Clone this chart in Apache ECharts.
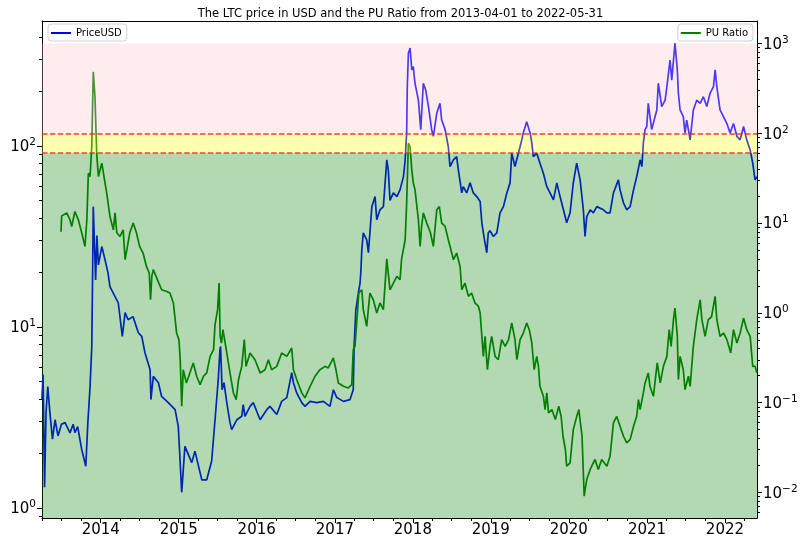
<!DOCTYPE html>
<html>
<head>
<meta charset="utf-8">
<title>LTC price and PU Ratio</title>
<script src="https://cdn.jsdelivr.net/npm/echarts@6/dist/echarts.min.js"></script>
<style>
    html, body { margin: 0; padding: 0; background: #fff; }
    #chart { width: 801px; height: 544px; }
</style>
</head>
<body>
<div id="chart"></div>
<script>
    // PriceUSD (left log axis)
    var priceDates = [
        '2013-04-01', '2013-04-06', '2013-04-13', '2013-04-20', '2013-04-28', '2013-05-08', '2013-05-20', '2013-06-01',
        '2013-06-15', '2013-07-01', '2013-07-18', '2013-08-10', '2013-08-25', '2013-09-02', '2013-09-15', '2013-10-04',
        '2013-10-23', '2013-11-02', '2013-11-12', '2013-11-20', '2013-11-24', '2013-11-27', '2013-12-02', '2013-12-08',
        '2013-12-14', '2013-12-21', '2014-01-06', '2014-01-21', '2014-02-04', '2014-02-13', '2014-03-09', '2014-03-24',
        '2014-04-12', '2014-04-25', '2014-05-09', '2014-06-01', '2014-06-26', '2014-07-12', '2014-07-27', '2014-08-20',
        '2014-08-24', '2014-09-04', '2014-09-28', '2014-10-13', '2014-11-13', '2014-12-15', '2014-12-30', '2015-01-15',
        '2015-01-30', '2015-03-03', '2015-03-18', '2015-04-19', '2015-05-12', '2015-06-04', '2015-06-20', '2015-07-05',
        '2015-07-13', '2015-07-16', '2015-07-23', '2015-08-01', '2015-08-14', '2015-08-29', '2015-09-06', '2015-09-30',
        '2015-10-23', '2015-10-30', '2015-11-07', '2015-12-01', '2015-12-16', '2016-01-17', '2016-02-17', '2016-03-03',
        '2016-04-04', '2016-04-27', '2016-05-21', '2016-06-13', '2016-06-21', '2016-07-06', '2016-07-30', '2016-08-14',
        '2016-09-07', '2016-10-08', '2016-11-08', '2016-12-09', '2016-12-25', '2017-01-10', '2017-02-10', '2017-03-13',
        '2017-03-28', '2017-04-01', '2017-04-09', '2017-04-21', '2017-04-29', '2017-05-03', '2017-05-07', '2017-05-14',
        '2017-05-30', '2017-06-07', '2017-06-23', '2017-07-08', '2017-07-16', '2017-07-31', '2017-08-16', '2017-09-01',
        '2017-09-08', '2017-09-16', '2017-10-02', '2017-10-18', '2017-11-02', '2017-11-18', '2017-11-26', '2017-12-03',
        '2017-12-06', '2017-12-11', '2017-12-19', '2017-12-27', '2018-01-03', '2018-01-11', '2018-01-27', '2018-02-07',
        '2018-02-19', '2018-03-02', '2018-03-15', '2018-03-30', '2018-04-07', '2018-04-23', '2018-05-08', '2018-05-16',
        '2018-06-01', '2018-06-16', '2018-06-24', '2018-07-10', '2018-07-25', '2018-08-02', '2018-08-18', '2018-08-25',
        '2018-09-10', '2018-09-26', '2018-10-11', '2018-10-27', '2018-11-12', '2018-11-20', '2018-11-27', '2018-12-13',
        '2018-12-20', '2018-12-28', '2019-01-13', '2019-01-29', '2019-02-13', '2019-03-01', '2019-03-17', '2019-04-01',
        '2019-04-09', '2019-04-24', '2019-05-10', '2019-05-26', '2019-06-02', '2019-06-18', '2019-07-04', '2019-07-12',
        '2019-07-19', '2019-08-04', '2019-08-19', '2019-09-04', '2019-09-20', '2019-10-05', '2019-10-21', '2019-11-06',
        '2019-11-21', '2019-12-07', '2019-12-22', '2020-01-07', '2020-01-22', '2020-02-07', '2020-02-23', '2020-03-09',
        '2020-03-17', '2020-03-25', '2020-04-10', '2020-04-25', '2020-05-11', '2020-06-11', '2020-06-27', '2020-07-12',
        '2020-07-28', '2020-08-20', '2020-08-28', '2020-09-13', '2020-09-28', '2020-10-14', '2020-10-30', '2020-11-14',
        '2020-11-30', '2020-12-08', '2020-12-15', '2020-12-23', '2020-12-31', '2021-01-07', '2021-01-15', '2021-01-23',
        '2021-01-31', '2021-02-16', '2021-02-23', '2021-03-11', '2021-03-27', '2021-04-04', '2021-04-19', '2021-04-27',
        '2021-05-12', '2021-05-23', '2021-05-28', '2021-06-05', '2021-06-20', '2021-06-28', '2021-07-06', '2021-07-22',
        '2021-08-06', '2021-08-22', '2021-09-07', '2021-09-22', '2021-10-08', '2021-10-23', '2021-11-08', '2021-11-16',
        '2021-11-24', '2021-12-09', '2021-12-25', '2022-01-10', '2022-01-25', '2022-02-10', '2022-02-26', '2022-03-13',
        '2022-03-29', '2022-04-13', '2022-04-29', '2022-05-11', '2022-05-22', '2022-05-31'
    ];
    var priceValues = [
        4.0, 5.45, 1.30, 3.4, 4.69, 3.36, 2.4, 3.07,
        2.5, 2.9, 2.96, 2.6, 2.9, 2.61, 2.81, 2.10,
        1.70, 3.01, 4.69, 7.80, 20, 46.2, 30, 18.2,
        32, 22, 27.8, 23.5, 19.9, 16.7, 14.7, 13.6,
        8.87, 12.0, 10.96, 11.4, 9.29, 8.87, 7.20, 5.80,
        3.97, 5.33, 4.92, 4.13, 3.82, 3.49, 2.82, 1.22,
        2.19, 1.78, 2.06, 1.43, 1.43, 1.81, 3.07, 5.11,
        7.48, 7.80, 4.5, 4.92, 3.82, 2.96, 2.71, 3.07,
        3.21, 3.72, 3.21, 3.64, 3.82, 3.07, 3.49, 3.64,
        3.28, 3.88, 4.07, 5.59, 4.92, 4.33, 3.82, 3.64,
        3.88, 3.82, 3.88, 3.64, 4.50, 4.07, 3.88, 3.97,
        4.50, 7.80, 12.4, 15.4, 17.5, 20.7, 26.6, 33.1,
        30.3, 25.7, 46.2, 52.5, 39.1, 44.4, 46.2, 83.8,
        73.8, 50, 55.0, 52.5, 57.2, 67.7, 83.8, 118,
        212, 325, 347, 263, 274, 222, 179, 123,
        222, 204, 165, 123, 113, 152, 172, 139,
        123, 99, 76.9, 83.8, 87.3, 73.8, 55.0, 59.6,
        55.0, 62.5, 55.0, 52.5, 49.3, 37.6, 33.1, 25.7,
        33.1, 34.0, 31.6, 33.1, 42.7, 46.2, 55.0, 62.5,
        91.2, 76.9, 91.2, 108, 118, 136, 118, 103.5,
        87.3, 91.2, 80.3, 70.7, 59.6, 55.0, 50.3, 62.5,
        52.5, 44.4, 37.6, 42.7, 62.5, 80.3, 64.9, 44.4,
        31.6, 40.7, 44.4, 42.7, 46.2, 44.4, 42.7, 42.7,
        55.0, 64.9, 57.2, 48.5, 44.4, 46.2, 57.2, 67.7,
        83.8, 76.9, 103.5, 123, 128, 172, 145, 123,
        123, 158, 222, 165, 179, 212, 298, 231,
        369, 263, 195, 158, 145, 118, 139, 108,
        158, 179, 172, 187, 165, 195, 212, 263,
        212, 158, 145, 133, 118, 133, 113, 108,
        128, 108, 95, 80.3, 64.9, 67.7
    ];

    // PU Ratio (right log axis)
    var ratioDates = [
        '2013-06-29', '2013-07-02', '2013-07-10', '2013-07-26', '2013-08-10', '2013-08-18', '2013-09-02', '2013-09-18',
        '2013-10-04', '2013-10-19', '2013-10-28', '2013-11-04', '2013-11-12', '2013-11-20', '2013-11-27', '2013-12-05',
        '2013-12-13', '2013-12-21', '2014-01-06', '2014-01-21', '2014-01-29', '2014-02-13', '2014-03-01', '2014-03-09',
        '2014-03-17', '2014-04-01', '2014-04-16', '2014-04-25', '2014-05-17', '2014-06-02', '2014-06-17', '2014-07-02',
        '2014-07-18', '2014-08-03', '2014-08-16', '2014-08-22', '2014-08-28', '2014-09-04', '2014-09-28', '2014-10-13',
        '2014-11-06', '2014-11-21', '2014-12-07', '2014-12-22', '2015-01-02', '2015-01-08', '2015-01-15', '2015-01-22',
        '2015-02-06', '2015-02-22', '2015-03-10', '2015-03-26', '2015-04-11', '2015-04-27', '2015-05-12', '2015-05-28',
        '2015-06-13', '2015-06-20', '2015-07-02', '2015-07-09', '2015-07-14', '2015-07-20', '2015-07-27', '2015-08-14',
        '2015-08-29', '2015-09-14', '2015-09-27', '2015-10-08', '2015-10-23', '2015-11-04', '2015-11-12', '2015-12-01',
        '2015-12-24', '2016-01-17', '2016-02-09', '2016-02-25', '2016-03-11', '2016-04-04', '2016-04-27', '2016-05-21',
        '2016-06-13', '2016-06-21', '2016-07-06', '2016-07-30', '2016-08-14', '2016-09-07', '2016-09-30', '2016-10-23',
        '2016-11-16', '2016-12-01', '2016-12-25', '2017-01-06', '2017-01-17', '2017-02-10', '2017-03-05', '2017-03-21',
        '2017-03-28', '2017-04-05', '2017-04-12', '2017-04-23', '2017-05-07', '2017-05-14', '2017-05-30', '2017-06-14',
        '2017-06-30', '2017-07-16', '2017-07-31', '2017-08-16', '2017-09-01', '2017-09-16', '2017-10-02', '2017-10-18',
        '2017-11-02', '2017-11-09', '2017-11-26', '2017-12-03', '2017-12-11', '2017-12-19', '2017-12-27', '2018-01-03',
        '2018-01-11', '2018-01-27', '2018-02-04', '2018-02-11', '2018-02-19', '2018-03-07', '2018-03-23', '2018-04-07',
        '2018-04-23', '2018-05-05', '2018-05-16', '2018-06-01', '2018-06-16', '2018-07-02', '2018-07-10', '2018-07-25',
        '2018-08-10', '2018-08-18', '2018-09-02', '2018-09-18', '2018-10-03', '2018-10-19', '2018-11-04', '2018-11-12',
        '2018-11-20', '2018-11-27', '2018-12-05', '2018-12-16', '2018-12-28', '2019-01-05', '2019-01-21', '2019-02-05',
        '2019-02-21', '2019-03-09', '2019-03-25', '2019-04-09', '2019-04-24', '2019-05-03', '2019-05-18', '2019-06-02',
        '2019-06-18', '2019-06-30', '2019-07-12', '2019-07-23', '2019-08-04', '2019-08-12', '2019-08-19', '2019-09-04',
        '2019-09-12', '2019-09-20', '2019-09-28', '2019-10-14', '2019-10-30', '2019-11-15', '2019-11-26', '2019-12-05',
        '2019-12-16', '2019-12-22', '2020-01-07', '2020-01-22', '2020-02-07', '2020-02-17', '2020-03-03', '2020-03-13',
        '2020-03-25', '2020-04-10', '2020-04-17', '2020-05-03', '2020-05-18', '2020-06-03', '2020-06-27', '2020-07-12',
        '2020-07-28', '2020-08-12', '2020-08-28', '2020-09-13', '2020-09-28', '2020-10-14', '2020-10-30', '2020-11-14',
        '2020-11-22', '2020-11-30', '2020-12-15', '2020-12-23', '2021-01-07', '2021-01-15', '2021-01-31', '2021-02-18',
        '2021-03-04', '2021-03-19', '2021-04-04', '2021-04-15', '2021-04-24', '2021-05-05', '2021-05-12', '2021-05-23',
        '2021-05-28', '2021-06-05', '2021-06-20', '2021-06-28', '2021-07-14', '2021-07-22', '2021-08-06', '2021-08-22',
        '2021-09-07', '2021-09-15', '2021-09-30', '2021-10-15', '2021-10-30', '2021-11-16', '2021-11-24', '2021-12-09',
        '2021-12-25', '2022-01-10', '2022-01-28', '2022-02-10', '2022-02-26', '2022-03-13', '2022-03-29', '2022-04-13',
        '2022-04-29', '2022-05-11', '2022-05-22', '2022-05-31'
    ];
    var ratioValues = [
        8.0, 12.0, 11.84, 13.0, 10.88, 9.17, 13.45, 10.88,
        7.80, 5.50, 10.88, 35.97, 33.0, 71.1, 485, 256,
        60.1, 33.0, 46.5, 28.1, 21.6, 11.84, 8.42, 13.0,
        7.80, 7.10, 8.42, 3.91, 7.80, 10.0, 7.80, 5.50,
        4.64, 3.29, 2.78, 1.40, 2.55, 3.03, 2.2, 1.81,
        1.73, 1.665, 1.29, 0.597, 0.504, 0.301, 0.0912, 0.233,
        0.166, 0.2146, 0.277, 0.197, 0.159, 0.197, 0.2146, 0.328,
        0.390, 0.74, 1.087, 2.15, 0.548, 0.46, 0.65, 0.358,
        0.2146, 0.1286, 0.1083, 0.181, 0.254, 0.504, 0.254, 0.358,
        0.301, 0.2146, 0.233, 0.301, 0.233, 0.254, 0.358, 0.328,
        0.407, 0.233, 0.181, 0.1286, 0.1131, 0.1522, 0.197, 0.233,
        0.254, 0.2438, 0.315, 0.233, 0.166, 0.1522, 0.146, 0.159,
        0.390, 0.424, 0.708, 1.665, 1.81, 1.087, 0.708, 1.665,
        1.40, 0.998, 1.29, 1.087, 4.0, 1.8, 2.15, 2.55,
        2.34, 3.91, 6.52, 16.7, 77.6, 71.1, 39.2, 28.1,
        23.5, 10.88, 5.50, 9.17, 13.0, 10.0, 8.0, 5.50,
        14.1, 15.3, 10.0, 9.17, 6.52, 4.64, 3.91, 4.64,
        3.29, 1.81, 2.15, 1.526, 1.665, 1.29, 1.18, 0.998,
        0.548, 0.328, 0.548, 0.233, 0.424, 0.548, 0.328, 0.301,
        0.504, 0.424, 0.504, 0.773, 0.504, 0.301, 0.504, 0.597,
        0.773, 0.65, 0.462, 0.233, 0.328, 0.254, 0.1522, 0.1178,
        0.0838, 0.1286, 0.077, 0.0838, 0.0649, 0.0912, 0.0706, 0.0423,
        0.0301, 0.0196, 0.0214, 0.0502, 0.07, 0.0838, 0.0423, 0.0091,
        0.01396, 0.018, 0.0196, 0.0233, 0.018, 0.0233, 0.0196, 0.0253,
        0.0596, 0.0706, 0.0546, 0.0423, 0.0357, 0.0388, 0.0546, 0.0706,
        0.1083, 0.0838, 0.1286, 0.166, 0.2146, 0.1522, 0.1178, 0.277,
        0.166, 0.254, 0.328, 0.65, 0.424, 0.84, 1.134, 0.548,
        0.181, 0.328, 0.233, 0.140, 0.197, 0.1522, 0.424, 0.84,
        1.40, 0.84, 0.548, 0.84, 0.9, 1.526, 0.84, 0.548,
        0.597, 0.504, 0.358, 0.65, 0.462, 0.597, 0.875, 0.65,
        0.548, 0.254, 0.254, 0.2146
    ];

    // tick labels
    var yearTicks = ['2014-01-01', '2015-01-01', '2016-01-01', '2017-01-01', '2018-01-01',
        '2019-01-01', '2020-01-01', '2021-01-01', '2022-01-01'];
    var priceTicks = [1, 10, 100];
    var ratioTicks = [0.01, 0.1, 1, 10, 100, 1000];
    // zone limits on the PU Ratio axis
    var zoneLimits = [60, 100, 1000];

    function ts(d) { return new Date(d + 'T00:00:00Z').getTime(); }

    var xMin = ts('2013-04-01'), xMax = ts('2022-05-31');
    var yearTs = yearTicks.map(ts);
    var quarterTs = [];
    for (var yr = 2013; yr <= 2022; yr++) {
        ['-01-01', '-04-01', '-07-01', '-10-01'].forEach(function (m) {
            var t = ts(yr + m);
            if (t >= xMin && t <= xMax) quarterTs.push(t);
        });
    }
    function minorLog(lo, hi) {
        var out = [];
        for (var e = lo; e <= hi; e++) {
            for (var k = 2; k <= 9; k++) out.push(k * Math.pow(10, e));
        }
        return out;
    }

    var priceMin = 0.88, priceMax = 490;
    var ratioMin = 0.0052, ratioMax = 1780;

    function pow10Label(v) {
        var e = Math.round(Math.log10(v));
        return '{b|10}{s|' + String(e).replace('-', '\u2212') + '}';
    }
    var powRich = {
        b: { fontSize: 15, color: '#000', fontFamily: 'DejaVu Sans', verticalAlign: 'bottom', lineHeight: 18 },
        s: { fontSize: 10.5, color: '#000', fontFamily: 'DejaVu Sans', verticalAlign: 'bottom', padding: [0, 0, 7, 0] }
    };

    var myChart = echarts.init(document.getElementById('chart'));

    var option = {
        animation: false,
        textStyle: { fontFamily: 'DejaVu Sans' },
        title: {
            text: 'The LTC price in USD and the PU Ratio from 2013-04-01 to 2022-05-31',
            left: 'center',
            top: 3,
            textStyle: { fontSize: 11.5, fontWeight: 'normal', color: '#000', fontFamily: 'DejaVu Sans' }
        },
        legend: [{
            data: ['PriceUSD'],
            left: 48, top: 24,
            backgroundColor: '#fff', borderColor: '#d0d0d0', borderWidth: 1, borderRadius: 3,
            padding: [4, 5, 3, 3],
            icon: 'rect', itemWidth: 20, itemHeight: 2, itemGap: 5,
            textStyle: { fontSize: 10, color: '#000' }
        }, {
            data: ['PU Ratio'],
            right: 48, top: 24,
            backgroundColor: '#fff', borderColor: '#d0d0d0', borderWidth: 1, borderRadius: 3,
            padding: [4, 5, 3, 3],
            icon: 'rect', itemWidth: 20, itemHeight: 2, itemGap: 5,
            textStyle: { fontSize: 10, color: '#000' }
        }],
        grid: { left: 42, right: 44, top: 21, bottom: 26 },
        xAxis: [{
            type: 'value', min: xMin, max: xMax,
            axisLine: { show: true, lineStyle: { color: '#000', width: 1 } },
            axisTick: { show: true, length: 5, customValues: yearTs, lineStyle: { color: '#000' } },
            axisLabel: {
                customValues: yearTs, fontSize: 15, color: '#000', margin: 5,
                formatter: function (v) { return String(new Date(v).getUTCFullYear()); }
            },
            splitLine: { show: false }
        }, {
            // quarterly minor ticks
            type: 'value', min: xMin, max: xMax, position: 'bottom',
            axisLine: { show: false },
            axisTick: { show: true, length: 3, customValues: quarterTs, lineStyle: { color: '#000' } },
            axisLabel: { show: false },
            splitLine: { show: false }
        }, {
            // top spine
            type: 'value', min: xMin, max: xMax, position: 'top',
            axisLine: { show: true, lineStyle: { color: '#000', width: 1 } },
            axisTick: { show: false }, axisLabel: { show: false }, splitLine: { show: false }
        }],
        yAxis: [{
            type: 'log', position: 'left', min: priceMin, max: priceMax,
            axisLine: { show: true, lineStyle: { color: '#000', width: 1 } },
            axisTick: { show: true, length: 5, customValues: priceTicks, lineStyle: { color: '#000' } },
            axisLabel: { customValues: priceTicks, formatter: pow10Label, rich: powRich, margin: 6 },
            splitLine: { show: false }
        }, {
            type: 'log', position: 'right', min: ratioMin, max: ratioMax,
            axisLine: { show: true, lineStyle: { color: '#000', width: 1 } },
            axisTick: { show: true, length: 5, customValues: ratioTicks, lineStyle: { color: '#000' } },
            axisLabel: { customValues: ratioTicks, formatter: pow10Label, rich: powRich, margin: 6 },
            splitLine: { show: false }
        }, {
            type: 'log', position: 'left', min: priceMin, max: priceMax,
            axisLine: { show: false },
            axisTick: { show: true, length: 3, customValues: minorLog(-1, 2), lineStyle: { color: '#000' } },
            axisLabel: { show: false }, splitLine: { show: false }
        }, {
            type: 'log', position: 'right', min: ratioMin, max: ratioMax,
            axisLine: { show: false },
            axisTick: { show: true, length: 3, customValues: minorLog(-3, 2), lineStyle: { color: '#000' } },
            axisLabel: { show: false }, splitLine: { show: false }
        }],
        series: [{
            name: 'PriceUSD',
            type: 'line',
            xAxisIndex: 0, yAxisIndex: 0,
            z: 0,
            showSymbol: false,
            color: '#0000ff',
            lineStyle: { width: 1.7, color: '#0000ff' },
            data: priceDates.map(function (d, i) { return [ts(d), priceValues[i]]; })
        }, {
            name: 'PU Ratio',
            type: 'line',
            xAxisIndex: 0, yAxisIndex: 1,
            z: 0,
            showSymbol: false,
            color: '#008000',
            lineStyle: { width: 1.7, color: '#008000' },
            data: ratioDates.map(function (d, i) { return [ts(d), ratioValues[i]]; })
        }, {
            // shaded zones and threshold lines, drawn over the lines
            name: 'zones',
            type: 'line',
            xAxisIndex: 0, yAxisIndex: 1,
            z: 3,
            silent: true,
            data: [],
            markArea: {
                silent: true,
                z: 5,
                data: [
                    [{ yAxis: ratioMin, itemStyle: { color: 'rgba(0,128,0,0.3)' } }, { yAxis: zoneLimits[0] }],
                    [{ yAxis: zoneLimits[0], itemStyle: { color: 'rgba(255,255,0,0.3)' } }, { yAxis: zoneLimits[1] }],
                    [{ yAxis: zoneLimits[1], itemStyle: { color: 'rgba(255,192,203,0.3)' } }, { yAxis: zoneLimits[2] }]
                ]
            },
            markLine: {
                silent: true,
                symbol: ['none', 'none'],
                label: { show: false },
                lineStyle: { color: '#f02020', width: 1.5, type: [5.5, 2.4], opacity: 0.85 },
                data: [{ yAxis: zoneLimits[0] }, { yAxis: zoneLimits[1] }]
            }
        }]
    };

    myChart.setOption(option);
</script>
</body>
</html>
